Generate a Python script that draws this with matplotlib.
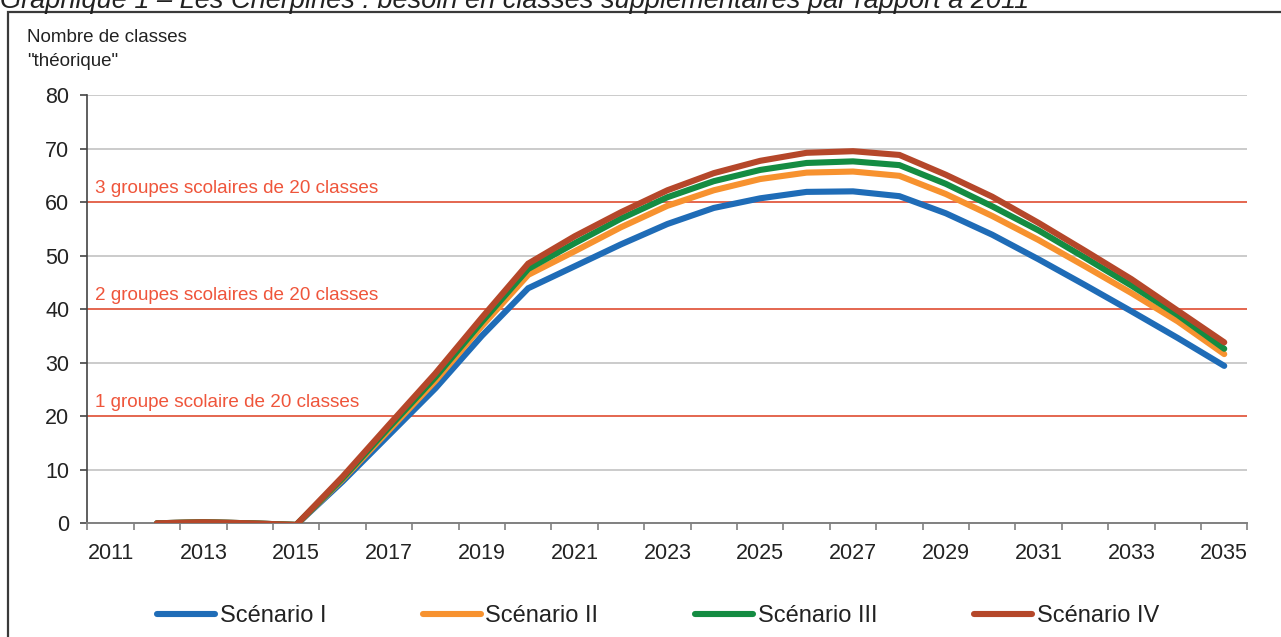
import matplotlib
matplotlib.use('Agg')
import matplotlib.pyplot as plt
from matplotlib.patches import Rectangle

plt.rcParams['font.family'] = ['Liberation Sans', 'DejaVu Sans']

# DATA
years = list(range(2012, 2036))
scen_1 = [0, 0.2, 0, -0.3, 7.8, 16.5, 25.2, 35.0, 43.9, 48.0, 52.1, 55.9, 58.9, 60.7,
          61.9, 62.0, 61.1, 57.9, 53.9, 49.3, 44.5, 39.6, 34.6, 29.4]
scen_2 = [0, 0.2, 0, -0.3, 8.2, 17.4, 26.6, 36.8, 46.4, 50.8, 55.3, 59.3, 62.2, 64.3,
          65.5, 65.7, 64.9, 61.5, 57.4, 52.9, 48.0, 43.0, 37.7, 31.6]
scen_3 = [0, 0.2, 0, -0.3, 8.4, 17.9, 27.3, 37.6, 47.5, 52.3, 56.9, 60.9, 63.9, 66.0,
          67.3, 67.6, 66.9, 63.4, 59.2, 54.7, 49.6, 44.4, 38.9, 32.6]
scen_4 = [0, 0.2, 0, -0.3, 8.7, 18.4, 28.0, 38.4, 48.5, 53.6, 58.1, 62.2, 65.4, 67.7,
          69.2, 69.5, 68.8, 65.1, 61.0, 56.1, 50.9, 45.6, 39.7, 33.8]
names = ['Scénario I', 'Scénario II', 'Scénario III', 'Scénario IV']
colors = ['#1f6cb7', '#f7922f', '#148c42', '#b5472a']
tick_years = list(range(2011, 2036, 2))
thresholds = [20, 40, 60]
threshold_labels = ['1 groupe scolaire de 20 classes',
                    '2 groupes scolaires de 20 classes',
                    '3 groupes scolaires de 20 classes']
first_year = 2011
n_years = 25

fig = plt.figure(figsize=(12.81, 6.37), dpi=100)
ax = fig.add_axes([0.0682, 0.1785, 0.9056, 0.6724])

# frame round the chart (goes off the right and bottom edges)
fig.patches.append(Rectangle((8 / 1281, -0.1), 1.2, 1 - 12 / 637 + 0.1,
                             transform=fig.transFigure, fill=False,
                             edgecolor='#3a3a3a', linewidth=1.6))

# title, cut at the top of the picture as in the original
fig.text(0.0, 1 - 8 / 637,
         'Graphique 1 – Les Cherpines : besoin en classes supplémentaires par rapport à 2011',
         fontsize=19.5, style='italic', color='#222222', va='baseline', ha='left')

fig.text(27 / 1281, 1 - 38 / 637, 'Nombre de classes', fontsize=13.5, color='#222222',
         va='center', ha='left')
fig.text(27 / 1281, 1 - 62 / 637, '"théorique"', fontsize=13.5, color='#222222',
         va='center', ha='left')

ax.set_xlim(0, n_years)
ax.set_ylim(0, 80)
ax.set_yticks(range(0, 81, 10))
ax.yaxis.grid(True, color='#bdbdbd', linewidth=1.1)
ax.set_axisbelow(True)

for t, lab in zip(thresholds, threshold_labels):
    ax.axhline(t, color='#e9573b', linewidth=1.2, zorder=2)
    ax.text(0.17, t + 0.9, lab, color='#ef553b', fontsize=13.6, va='bottom', ha='left')

x = [y - first_year + 0.5 for y in years]
for vals, name, c in zip([scen_1, scen_2, scen_3, scen_4], names, colors):
    ax.plot(x, vals, color=c, linewidth=4.4, label=name, zorder=3,
            solid_joinstyle='miter', solid_capstyle='round')

# category axis: ticks at boundaries, labels in the middle
ax.set_xticks(range(0, n_years + 1))
ax.set_xticklabels([])
ax.set_xticks([y - first_year + 0.5 for y in tick_years], minor=True)
ax.set_xticklabels([str(y) for y in tick_years], minor=True)
ax.tick_params(axis='x', which='major', length=5, color='#808080', width=1.2)
ax.tick_params(axis='x', which='minor', length=0, pad=14, labelsize=15.5, labelcolor='#222222')
ax.tick_params(axis='y', length=5, width=1.2, pad=8, labelsize=15.5, labelcolor='#222222',
               color='#444444')

for s in ['top', 'right']:
    ax.spines[s].set_visible(False)
ax.spines['left'].set_color('#444444')
ax.spines['left'].set_linewidth(1.2)
ax.spines['bottom'].set_color('#808080')
ax.spines['bottom'].set_linewidth(1.4)

fig.legend(loc='center', bbox_to_anchor=(658 / 1281, 1 - 616 / 637), ncol=4,
           frameon=False, fontsize=17, handlelength=2.45, handletextpad=0.2,
           columnspacing=4.1, labelcolor='#222222')

plt.savefig('out.png', dpi=100)
